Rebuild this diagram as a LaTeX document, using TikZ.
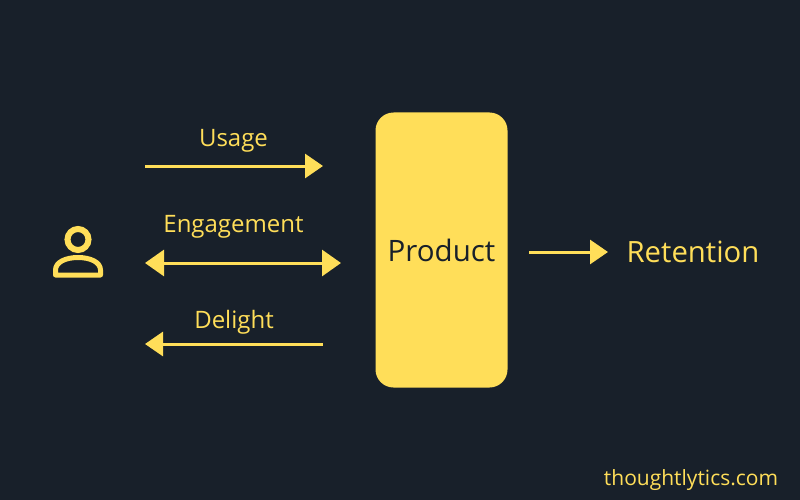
\documentclass[tikz,border=0pt]{standalone}
\usepackage{fontspec}
\setmainfont{Open Sans}
\usepackage{tikz}
\usetikzlibrary{arrows.meta,positioning}
\definecolor{bgdark}{HTML}{18202A}
\definecolor{ylw}{HTML}{FFDE59}

\begin{document}
\begin{tikzpicture}
    [x=1pt,y=-1pt,
        tipsmall/.tip={Triangle[length=18pt,width=24pt]},
        tipbig/.tip={Triangle[length=19pt,width=26pt]},
        flow/.style={ylw,line width=3pt,-tipsmall},
        twoway/.style={ylw,line width=3pt,tipbig-tipbig},
        back/.style={ylw,line width=3pt,tipsmall-},
        label/.style={text=ylw,font=\fontsize{24pt}{28pt}\selectfont,inner sep=0pt}]

    \fill[bgdark] (0,0) rectangle (800,500);
    \useasboundingbox (0,0) rectangle (800,500);

    \node[fill=ylw,rounded corners=18pt,minimum width=132pt,minimum height=275pt,inner sep=0pt,
        text=bgdark,font=\fontsize{29.5pt}{34pt}\selectfont] (product) at (441.5,250) {Product};
    \node[label,font=\fontsize{29.3pt}{34pt}\selectfont] (retention) at (693,252) {Retention};
    \node[label] (usage) at (233.5,140.5) {Usage};
    \node[label] (engagement) at (233.5,226.5) {Engagement};
    \node[label] (delight) at (234,322) {Delight};
    \node[label,font=\fontsize{21pt}{24pt}\selectfont] (site) at (691,480) {thoughtlytics.com};

    \coordinate (usageA) at (145,166);
    \coordinate (usageB) at (323,166);
    \coordinate (engA) at (145,263);
    \coordinate (engB) at (341,263);
    \coordinate (delA) at (145,344);
    \coordinate (delB) at (323,344);
    \coordinate (retA) at (529,252);
    \coordinate (retB) at (608,252);

    \draw[flow] (usageA) -- (usageB);
    \draw[twoway] (engA) -- (engB);
    \draw[back] (delA) -- (delB);
    \draw[flow] (retA) -- (retB);

    % person icon
    \draw[ylw,line width=6pt] (78,239.5) circle (10.5pt);
    \draw[ylw,line width=5pt,line join=round] (55.5,275) -- (55.5,270) .. controls (55.5,262) and (66,257.5) .. (78,257.5)
        .. controls (90,257.5) and (100.5,262) .. (100.5,270) -- (100.5,275) -- cycle;
\end{tikzpicture}
\end{document}
